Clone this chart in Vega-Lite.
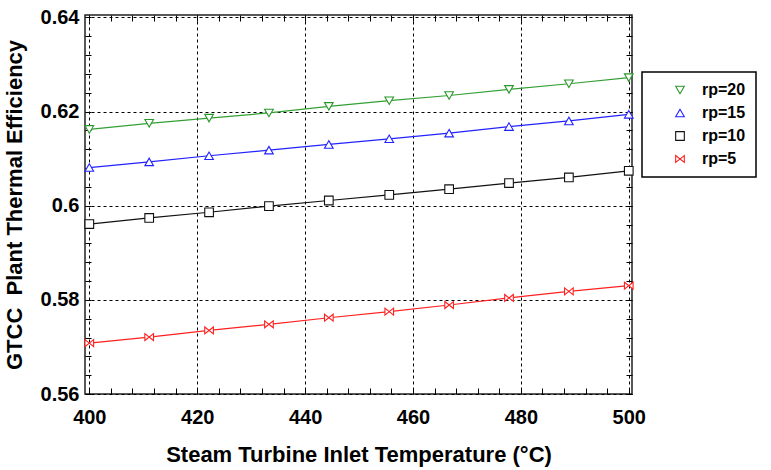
{
  "$schema": "https://vega.github.io/schema/vega-lite/v6.json",
  "width": 547,
  "height": 379,
  "autosize": {"type": "none"},
  "padding": {"left": 85, "top": 15, "right": 139, "bottom": 76},
  "background": "white",
  "config": {
    "view": {"stroke": "#222222", "strokeWidth": 1.5},
    "font": "Liberation Sans",
    "legend": {
      "strokeColor": "black", "strokeWidth": 1.5, "fillColor": "white",
      "padding": 10, "rowPadding": 7,
      "symbolOffset": 0, "labelOffset": 14,
      "titleOrient": "left", "titlePadding": 20, "titleFontSize": 10,
      "symbolSize": 75, "symbolStrokeWidth": 1.1, "symbolFillColor": "white",
      "labelFont": "Liberation Sans", "labelFontSize": 16, "labelFontWeight": "bold", "labelColor": "black"
    }
  },
  "data": {
    "values": [
      {"x": 400, "rp": "rp=20", "eff": 0.6162}, {"x": 411.1, "rp": "rp=20", "eff": 0.6175}, {"x": 422.2, "rp": "rp=20", "eff": 0.6186}, {"x": 433.3, "rp": "rp=20", "eff": 0.6197}, {"x": 444.4, "rp": "rp=20", "eff": 0.6211}, {"x": 455.6, "rp": "rp=20", "eff": 0.6223}, {"x": 466.7, "rp": "rp=20", "eff": 0.6234}, {"x": 477.8, "rp": "rp=20", "eff": 0.6247}, {"x": 488.9, "rp": "rp=20", "eff": 0.6259}, {"x": 500, "rp": "rp=20", "eff": 0.6272},
      {"x": 400, "rp": "rp=15", "eff": 0.6081}, {"x": 411.1, "rp": "rp=15", "eff": 0.6093}, {"x": 422.2, "rp": "rp=15", "eff": 0.6106}, {"x": 433.3, "rp": "rp=15", "eff": 0.6118}, {"x": 444.4, "rp": "rp=15", "eff": 0.6130}, {"x": 455.6, "rp": "rp=15", "eff": 0.6142}, {"x": 466.7, "rp": "rp=15", "eff": 0.6154}, {"x": 477.8, "rp": "rp=15", "eff": 0.6168}, {"x": 488.9, "rp": "rp=15", "eff": 0.6180}, {"x": 500, "rp": "rp=15", "eff": 0.6194},
      {"x": 400, "rp": "rp=10", "eff": 0.5961}, {"x": 411.1, "rp": "rp=10", "eff": 0.5974}, {"x": 422.2, "rp": "rp=10", "eff": 0.5986}, {"x": 433.3, "rp": "rp=10", "eff": 0.5999}, {"x": 444.4, "rp": "rp=10", "eff": 0.6011}, {"x": 455.6, "rp": "rp=10", "eff": 0.6023}, {"x": 466.7, "rp": "rp=10", "eff": 0.6035}, {"x": 477.8, "rp": "rp=10", "eff": 0.6048}, {"x": 488.9, "rp": "rp=10", "eff": 0.6060}, {"x": 500, "rp": "rp=10", "eff": 0.6074},
      {"x": 400, "rp": "rp=5", "eff": 0.5708}, {"x": 411.1, "rp": "rp=5", "eff": 0.5721}, {"x": 422.2, "rp": "rp=5", "eff": 0.5735}, {"x": 433.3, "rp": "rp=5", "eff": 0.5748}, {"x": 444.4, "rp": "rp=5", "eff": 0.5762}, {"x": 455.6, "rp": "rp=5", "eff": 0.5775}, {"x": 466.7, "rp": "rp=5", "eff": 0.5789}, {"x": 477.8, "rp": "rp=5", "eff": 0.5804}, {"x": 488.9, "rp": "rp=5", "eff": 0.5818}, {"x": 500, "rp": "rp=5", "eff": 0.5830}
    ]
  },
  "resolve": {"axis": {"x": "independent", "y": "independent"}},
  "layer": [
    {
      "mark": {"type": "line", "strokeWidth": 1.2},
      "encoding": {
        "x": {
          "field": "x", "type": "quantitative",
          "scale": {"domain": [399.2, 500.6], "nice": false, "zero": false},
          "axis": {
            "orient": "bottom",
            "values": [400, 420, 440, 460, 480, 500],
            "format": "d",
            "grid": true, "gridDash": [3, 3], "gridColor": "black", "gridOpacity": 1, "gridWidth": 1,
            "ticks": false, "domain": false,
            "labelFont": "Liberation Sans", "labelFontSize": 20, "labelFontWeight": "bold", "labelColor": "black", "labelPadding": 13,
            "title": "Steam Turbine Inlet Temperature (°C)",
            "titleFont": "Liberation Sans", "titleFontSize": 22, "titleFontWeight": "bold", "titleColor": "black", "titlePadding": 17
          }
        },
        "y": {
          "field": "eff", "type": "quantitative",
          "scale": {"domain": [0.56, 0.6405], "nice": false, "zero": false},
          "axis": {
            "orient": "left",
            "values": [0.56, 0.58, 0.6, 0.62, 0.64],
            "format": ".2~f",
            "grid": true, "gridDash": [3, 3], "gridColor": "black", "gridOpacity": 1, "gridWidth": 1,
            "ticks": false, "domain": false,
            "labelFont": "Liberation Sans", "labelFontSize": 20, "labelFontWeight": "bold", "labelColor": "black", "labelPadding": 6,
            "title": "GTCC\u00a0 Plant Thermal Efficiency",
            "titleFont": "Liberation Sans", "titleFontSize": 22, "titleFontWeight": "bold", "titleColor": "black", "titlePadding": 14
          }
        },
        "stroke": {
          "field": "rp", "type": "nominal", "legend": null,
          "scale": {"domain": ["rp=5", "rp=10", "rp=15", "rp=20"], "range": ["#ff2020", "#111111", "#2222ff", "#33a033"]}
        },
        "detail": {"field": "rp"}
      }
    },
    {
      "mark": {"type": "point", "filled": false, "fill": "white", "fillOpacity": 1, "strokeWidth": 1.1, "size": 75, "opacity": 1},
      "encoding": {
        "x": {"field": "x", "type": "quantitative", "axis": null},
        "y": {"field": "eff", "type": "quantitative", "axis": null},
        "color": {
          "field": "rp", "type": "nominal",
          "scale": {"domain": ["rp=20", "rp=15", "rp=10", "rp=5"], "range": ["#2a962a", "#2222ff", "#111111", "#ff2020"]},
          "legend": {"title": " ", "orient": "none", "legendX": 557, "legendY": 57}
        },
        "shape": {
          "field": "rp", "type": "nominal",
          "scale": {"domain": ["rp=20", "rp=15", "rp=10", "rp=5"], "range": ["triangle-down", "triangle-up", "square", "M-1,-0.8L1,0.8L1,-0.8L-1,0.8Z"]},
          "legend": {"title": " ", "orient": "none", "legendX": 557, "legendY": 57}
        }
      }
    },
    {
      "mark": {"type": "rule", "opacity": 0},
      "encoding": {
        "x": {
          "field": "x", "type": "quantitative",
          "axis": {
            "orient": "bottom", "offset": -6, "tickSize": 6, "tickColor": "black", "tickWidth": 1,
            "values": [400, 404, 408, 412, 416, 420, 424, 428, 432, 436, 440, 444, 448, 452, 456, 460, 464, 468, 472, 476, 480, 484, 488, 492, 496, 500],
            "labels": false, "grid": false, "domain": false, "title": null
          }
        },
        "y": {
          "field": "eff", "type": "quantitative",
          "axis": {
            "orient": "left", "offset": -6, "tickSize": 6, "tickColor": "black", "tickWidth": 1,
            "values": [0.56, 0.564, 0.568, 0.572, 0.576, 0.58, 0.584, 0.588, 0.592, 0.596, 0.6, 0.604, 0.608, 0.612, 0.616, 0.62, 0.624, 0.628, 0.632, 0.636, 0.64],
            "labels": false, "grid": false, "domain": false, "title": null
          }
        }
      }
    },
    {
      "mark": {"type": "rule", "opacity": 0},
      "encoding": {
        "x": {
          "field": "x", "type": "quantitative",
          "axis": {
            "orient": "top", "offset": -6, "tickSize": 6, "tickColor": "black", "tickWidth": 1,
            "values": [400, 404, 408, 412, 416, 420, 424, 428, 432, 436, 440, 444, 448, 452, 456, 460, 464, 468, 472, 476, 480, 484, 488, 492, 496, 500],
            "labels": false, "grid": false, "domain": false, "title": null
          }
        },
        "y": {
          "field": "eff", "type": "quantitative",
          "axis": {
            "orient": "right", "offset": -6, "tickSize": 6, "tickColor": "black", "tickWidth": 1,
            "values": [0.56, 0.564, 0.568, 0.572, 0.576, 0.58, 0.584, 0.588, 0.592, 0.596, 0.6, 0.604, 0.608, 0.612, 0.616, 0.62, 0.624, 0.628, 0.632, 0.636, 0.64],
            "labels": false, "grid": false, "domain": false, "title": null
          }
        }
      }
    }
  ]
}
